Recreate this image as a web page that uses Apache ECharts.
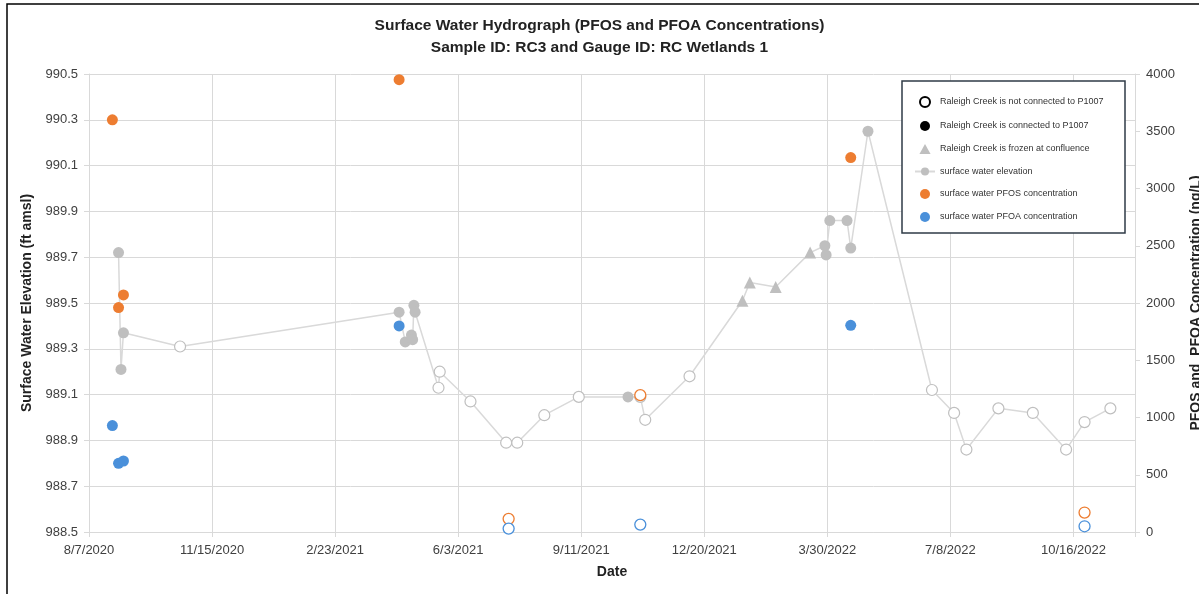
<!DOCTYPE html>
<html>
<head>
<meta charset="utf-8">
<script src="https://cdn.jsdelivr.net/npm/echarts@6/dist/echarts.min.js"></script>
<style>
html,body{margin:0;padding:0;background:#fff;}
#chart{width:1199px;height:594px;}
</style>
</head>
<body>
<div id="chart"></div>
<script>
// ---- data ----
const baseDate = '2020-08-07';
const xTickLabels = ['8/7/2020','11/15/2020','2/23/2021','6/3/2021','9/11/2021','12/20/2021','3/30/2022','7/8/2022','10/16/2022'];

const elevDates = ['2020-08-31','2020-09-02','2020-09-04','2020-10-20',
  '2021-04-16','2021-04-21','2021-04-26','2021-04-27','2021-04-28','2021-04-29',
  '2021-05-18','2021-05-19','2021-06-13','2021-07-12','2021-07-21','2021-08-12','2021-09-09',
  '2021-10-19','2021-10-29','2021-11-02','2021-12-08',
  '2022-01-20','2022-01-26','2022-02-16','2022-03-16',
  '2022-03-28','2022-03-29','2022-04-01','2022-04-15','2022-04-18','2022-05-02',
  '2022-06-23','2022-07-11','2022-07-21','2022-08-16','2022-09-13','2022-10-10','2022-10-25','2022-11-15'];
const elevValues = [989.72,989.21,989.37,989.31,
  989.46,989.33,989.36,989.34,989.49,989.46,
  989.13,989.20,989.07,988.89,988.89,989.01,989.09,
  989.09,989.09,988.99,989.18,
  989.51,989.59,989.57,989.72,
  989.75,989.71,989.86,989.86,989.74,990.25,
  989.12,989.02,988.86,989.04,989.02,988.86,988.98,989.04];
// C = connected, N = not connected, F = frozen at confluence
const elevStatus = ['C','C','C','N',
  'C','C','C','C','C','C',
  'N','N','N','N','N','N','N',
  'C','N','N','N',
  'F','F','F','F',
  'C','C','C','C','C','C',
  'N','N','N','N','N','N','N','N'];

const sampleDates = ['2020-08-26','2020-08-31','2020-09-04','2021-04-16','2021-07-14','2021-10-29','2022-04-18','2022-10-25'];
const pfosValues = [3600,1960,2070,3950,115,1195,3270,170];
const pfoaValues = [930,600,620,1800,30,65,1805,50];
const sampleStatus = ['C','C','C','C','N','N','C','N'];

// ---- helpers ----
const DAY = 86400000;
function toUTC(s){const p=s.split('-').map(Number);return Date.UTC(p[0],p[1]-1,p[2]);}
function toDay(s){return (toUTC(s)-toUTC(baseDate))/DAY;}

const GRAY = '#BFBFBF', ORANGE = '#ED7D31', BLUE = '#4A90DA';
const FONT = 'Liberation Sans, Arial, sans-serif';

function elevItem(i){
  const st = elevStatus[i];
  const item = {value:[toDay(elevDates[i]), elevValues[i]]};
  if(st==='N'){item.symbol='circle';item.itemStyle={color:'#fff',borderColor:GRAY,borderWidth:1.2,opacity:1};}
  else if(st==='F'){item.symbol='triangle';item.symbolSize=12;item.itemStyle={color:GRAY,opacity:1};}
  else {item.symbol='circle';item.itemStyle={color:GRAY,opacity:1};}
  return item;
}
function sampleItem(i, vals, col){
  const item = {value:[toDay(sampleDates[i]), vals[i]]};
  if(sampleStatus[i]==='N'){item.itemStyle={color:'#fff',borderColor:col,borderWidth:1.3,opacity:1};}
  else item.itemStyle={color:col,opacity:1};
  return item;
}

const chart = echarts.init(document.getElementById('chart'), null, {renderer:'canvas'});
const axisGray = '#D9D9D9';
const option = {
  animation:false,
  backgroundColor:'#fff',
  textStyle:{fontFamily:FONT},
  title:{
    text:'Surface Water Hydrograph (PFOS and PFOA Concentrations)\nSample ID: RC3 and Gauge ID: RC Wetlands 1',
    left:'center', top:10,
    textStyle:{fontFamily:FONT,fontSize:15.5,fontWeight:'bold',color:'#222',lineHeight:22,align:'center'}
  },
  grid:{left:89,right:64,top:74,bottom:62,containLabel:false,outerBoundsMode:'none'},
  legend:{
    orient:'vertical', left:909, top:91, itemGap:13, itemWidth:20, itemHeight:10,
    textStyle:{fontFamily:FONT,fontSize:9,color:'#333'},
    selectedMode:false, z:10, symbolKeepAspect:true,
    data:[
      {name:'Raleigh Creek is not connected to P1007'},
      {name:'Raleigh Creek is connected to P1007'},
      {name:'Raleigh Creek is frozen at confluence', icon:'path://M5,0 L10,9 L0,9 Z'},
      {name:'surface water elevation'},
      {name:'surface water PFOS concentration'},
      {name:'surface water PFOA concentration'}
    ]
  },
  graphic:[
    {type:'rect',z:5,shape:{x:902,y:81,width:223,height:152},style:{fill:'#fff',stroke:'#2F3B47',lineWidth:1.5}},
    {type:'rect',z:20,silent:true,shape:{x:7,y:4,width:1400,height:800},style:{fill:'none',stroke:'#000',lineWidth:1.5}}
  ],
  xAxis:{
    type:'value', min:0, max:850, interval:100,
    name:'Date', nameLocation:'middle', nameGap:33,
    nameTextStyle:{fontFamily:FONT,fontSize:14,fontWeight:'bold',color:'#222'},
    axisLine:{show:true,onZero:false,lineStyle:{color:axisGray,width:1}},
    axisTick:{show:true,length:5,lineStyle:{color:axisGray}},
    axisLabel:{fontFamily:FONT,fontSize:13,color:'#404040',margin:12,
      formatter:function(v){const i=Math.round(v/100);return (i>=0&&i<xTickLabels.length&&Math.abs(v-i*100)<1e-6)?xTickLabels[i]:'';}},
    splitLine:{show:true,lineStyle:{color:axisGray,width:1}}
  },
  yAxis:[
    {type:'value', min:988.5, max:990.5, interval:0.2, position:'left',
      name:'Surface Water Elevation (ft amsl)', nameLocation:'middle', nameGap:54,
      nameTextStyle:{fontFamily:FONT,fontSize:14,fontWeight:'bold',color:'#222'},
      axisLine:{show:true,lineStyle:{color:axisGray}},
      axisTick:{show:true,length:5,lineStyle:{color:axisGray}},
      axisLabel:{fontFamily:FONT,fontSize:13,color:'#404040',margin:11,formatter:function(v){return v.toFixed(1);}},
      splitLine:{show:true,lineStyle:{color:axisGray,width:1}}
    },
    {type:'value', min:0, max:4000, interval:500, position:'right',
      name:'PFOS and  PFOA Concentration (ng/L)', nameLocation:'middle', nameGap:54,
      nameTextStyle:{fontFamily:FONT,fontSize:14,fontWeight:'bold',color:'#222'},
      axisLine:{show:true,lineStyle:{color:axisGray}},
      axisTick:{show:true,length:5,lineStyle:{color:axisGray}},
      axisLabel:{fontFamily:FONT,fontSize:13,color:'#404040',margin:11,formatter:function(v){return String(v);}},
      splitLine:{show:false}
    }
  ],
  series:[
    {name:'Raleigh Creek is not connected to P1007',type:'scatter',data:[],symbol:'circle',symbolSize:9,
      itemStyle:{color:'#fff',borderColor:'#000',borderWidth:1.2,opacity:1}},
    {name:'Raleigh Creek is connected to P1007',type:'scatter',data:[],symbol:'circle',symbolSize:9,
      itemStyle:{color:'#000',opacity:1}},
    {name:'Raleigh Creek is frozen at confluence',type:'scatter',data:[],symbol:'triangle',symbolSize:10,
      itemStyle:{color:GRAY,opacity:1}},
    {name:'surface water elevation',type:'line',yAxisIndex:0,symbol:'circle',symbolSize:11,showAllSymbol:true,
      lineStyle:{color:axisGray,width:1.5},itemStyle:{color:GRAY,opacity:1},z:2,
      data:elevDates.map((d,i)=>elevItem(i))},
    {name:'surface water PFOS concentration',type:'scatter',yAxisIndex:1,symbol:'circle',symbolSize:11,z:3,
      itemStyle:{color:ORANGE,opacity:1},
      data:sampleDates.map((d,i)=>sampleItem(i,pfosValues,ORANGE))},
    {name:'surface water PFOA concentration',type:'scatter',yAxisIndex:1,symbol:'circle',symbolSize:11,z:3,
      itemStyle:{color:BLUE,opacity:1},
      data:sampleDates.map((d,i)=>sampleItem(i,pfoaValues,BLUE))}
  ]
};
chart.setOption(option);
</script>
</body>
</html>
